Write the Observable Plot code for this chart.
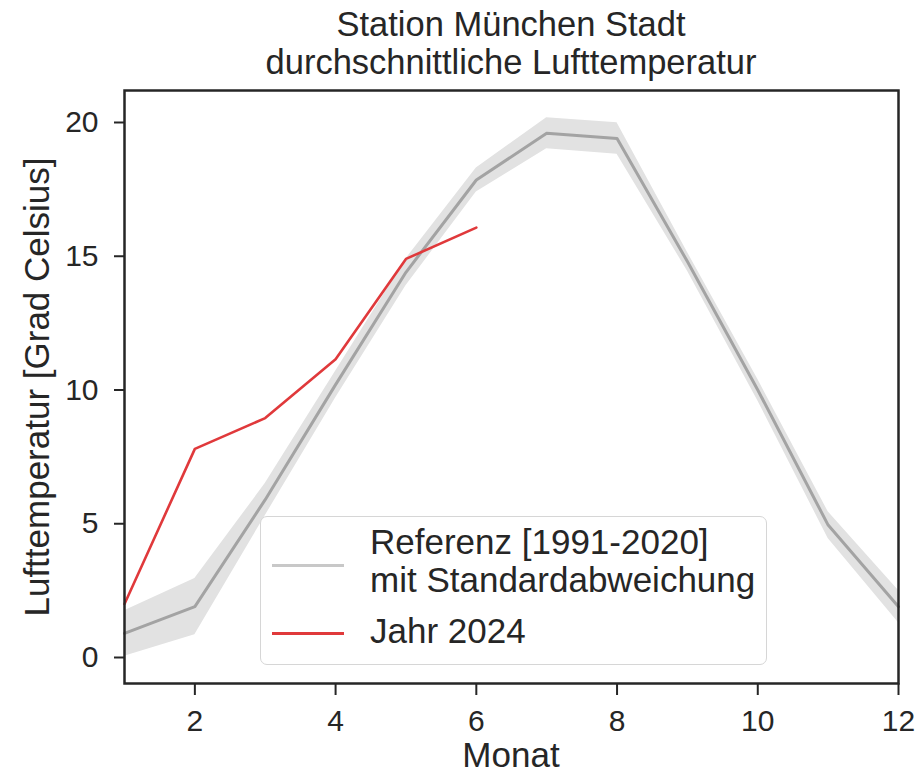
<!DOCTYPE html>
<html>
<head>
<meta charset="utf-8">
<script src="https://cdn.jsdelivr.net/npm/d3@7"></script>
<script src="https://cdn.jsdelivr.net/npm/@observablehq/plot@0.6"></script>
<style>
  html, body { margin: 0; padding: 0; background: white; }
  #wrap { position: relative; width: 922px; height: 779px; font-family: "Liberation Sans", Arial, sans-serif; color: #262626; }
  #wrap svg { position: absolute; left: 0; top: 0; }
  .title { position: absolute; left: 124px; width: 774px; top: 5px; text-align: center; font-size: 34.5px; line-height: 38px; }
  .ylab { position: absolute; left: 37px; top: 387px; font-size: 35px; line-height: 36px; white-space: nowrap; transform: translate(-50%, -50%) rotate(-90deg); }
  .xlab { position: absolute; left: 124px; width: 774px; top: 737px; text-align: center; font-size: 35px; line-height: 35px; }
  .legend { position: absolute; left: 260px; top: 516px; width: 505px; height: 147px; border: 1.5px solid #d6d6d6; border-radius: 7px; background: rgba(255,255,255,0.8); box-sizing: content-box; }
  .legend .sw { position: absolute; left: 11px; width: 72px; height: 3px; }
  .legend .tx { position: absolute; left: 109px; font-size: 35px; line-height: 38px; white-space: nowrap; }
</style>
</head>
<body>
<div id="wrap"></div>
<script>
// ---- Data ----
const months = [1, 2, 3, 4, 5, 6, 7, 8, 9, 10, 11, 12];
const refMean = [0.9, 1.9, 5.9, 10.2, 14.4, 17.85, 19.6, 19.4, 14.8, 10.0, 4.95, 1.9];
const refStd  = [0.85, 1.05, 0.6, 0.5, 0.5, 0.45, 0.58, 0.59, 0.35, 0.4, 0.5, 0.6];
const months2024 = [1, 2, 3, 4, 5, 6];
const temp2024 = [2.0, 7.8, 8.95, 11.15, 14.9, 16.07];
const xTicks = [2, 4, 6, 8, 10, 12];
const yTicks = [0, 5, 10, 15, 20];

const titleLines = ["Station München Stadt", "durchschnittliche Lufttemperatur"];
const xLabel = "Monat";
const yLabel = "Lufttemperatur [Grad Celsius]";
const legendRef = ["Referenz [1991-2020]", "mit Standardabweichung"];
const legend2024 = "Jahr 2024";

const ref = months.map((m, i) => ({month: m, mean: refMean[i], lo: refMean[i] - refStd[i], hi: refMean[i] + refStd[i]}));
const y2024 = months2024.map((m, i) => ({month: m, t: temp2024[i]}));

const chart = Plot.plot({
  width: 922,
  height: 779,
  marginLeft: 124,
  marginRight: 24,
  marginTop: 90,
  marginBottom: 96,
  style: {fontFamily: '"Liberation Sans", Arial, sans-serif', fontSize: "30px", color: "#262626", background: "transparent", overflow: "visible"},
  x: {domain: [1, 12]},
  y: {domain: [-0.972, 21.196]},
  marks: [
    Plot.areaY(ref, {x: "month", y1: "lo", y2: "hi", fill: "#e2e2e2"}),
    Plot.lineY(ref, {x: "month", y: "mean", stroke: "#a3a3a3", strokeWidth: 3}),
    Plot.lineY(y2024, {x: "month", y: "t", stroke: "#e0393b", strokeWidth: 2.6}),
    Plot.frame({stroke: "#262626", strokeWidth: 2.5}),
    Plot.axisX({ticks: xTicks, tickSize: 12, tickPadding: 14, strokeWidth: 2, label: null, fontSize: 30}),
    Plot.axisY({ticks: yTicks, tickSize: 10, tickPadding: 16, strokeWidth: 2, label: null, fontSize: 30})
  ]
});

const wrap = document.getElementById("wrap");
wrap.appendChild(chart);

function addDiv(cls, html, styleStr) {
  const d = document.createElement("div");
  d.className = cls;
  if (styleStr) d.setAttribute("style", styleStr);
  d.innerHTML = html;
  wrap.appendChild(d);
  return d;
}
addDiv("title", titleLines.join("<br>"));
addDiv("ylab", yLabel);
addDiv("xlab", xLabel);

const lg = addDiv("legend", "");
function addLg(cls, html, styleStr) {
  const d = document.createElement("div");
  d.className = cls;
  d.setAttribute("style", styleStr);
  d.innerHTML = html;
  lg.appendChild(d);
}
addLg("sw", "", "top:47px;background:#c8c8c8;");
addLg("sw", "", "top:115px;background:#e0393b;");
addLg("tx", legendRef.join("<br>"), "top:6px;");
addLg("tx", legend2024, "top:95px;");
</script>
</body>
</html>
